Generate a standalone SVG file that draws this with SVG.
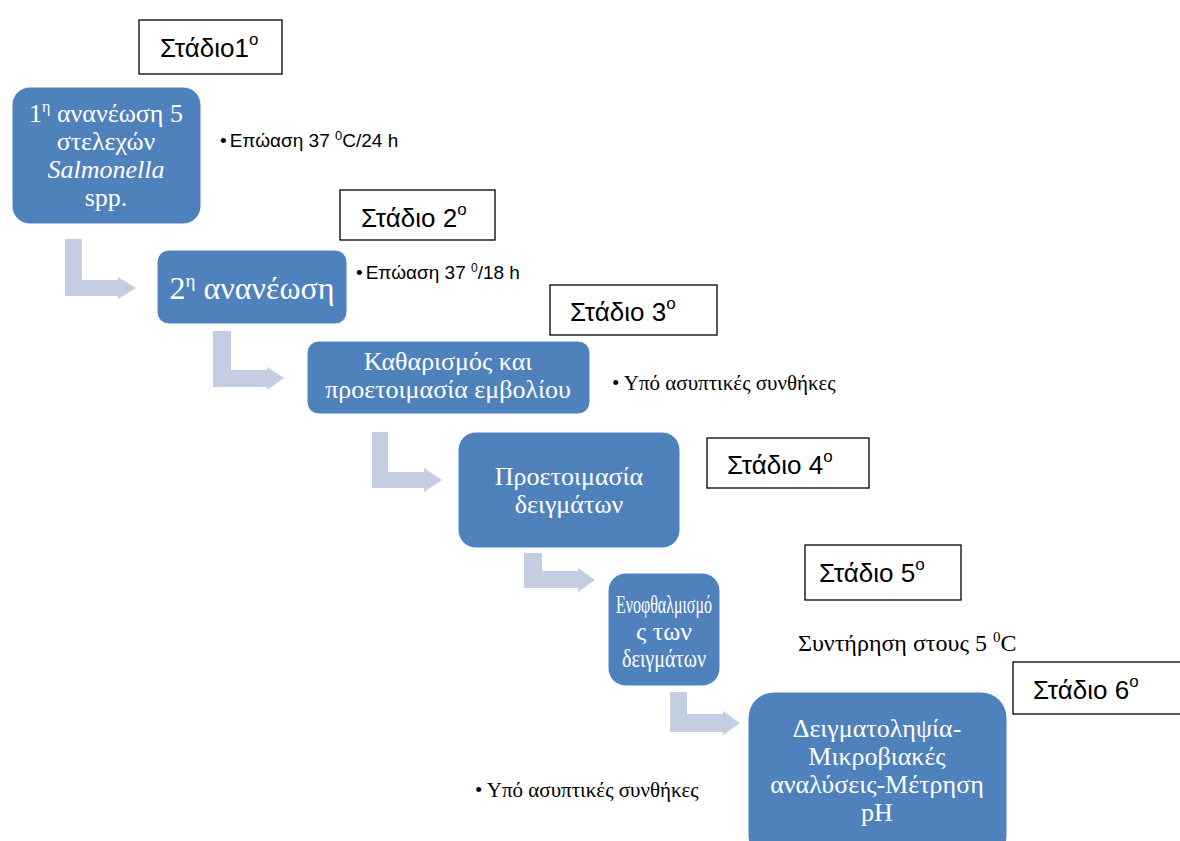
<svg xmlns="http://www.w3.org/2000/svg" width="1180" height="841" viewBox="0 0 1180 841">
<style>
.node{fill:#4F81BD;stroke:#FFFFFF;stroke-width:1}
.stage{fill:#FFFFFF;stroke:#000000;stroke-width:1.3}
.stxt{font-family:"Liberation Sans",Arial,sans-serif;font-size:26px;fill:#000}
.ntxt{font-family:"Liberation Serif","Times New Roman",serif;font-size:26px;fill:#FFFFFF;text-anchor:middle}
.arrow{fill:#C3CEE3}
.note{font-family:"Liberation Sans",Arial,sans-serif;font-size:19px;fill:#000}
.snote{font-family:"Liberation Serif","Times New Roman",serif;font-size:21px;fill:#000}
</style>
<rect width="1180" height="841" fill="#FFFFFF"/>
<g id="connectors">
<path class="arrow" d="M65,239 H82 V280 H118 V277 L136,288 L118,299 V296 H65 Z"/>
<path class="arrow" d="M213,331 H231 V370 H267 V367 L284,378 L267,390 V387 H213 Z"/>
<path class="arrow" d="M372,432 H388 V472 H424 V468 L442,480 L424,492 V488 H372 Z"/>
<path class="arrow" d="M524,553 H542 V571 H578 V568 L595,580 L578,592 V588 H524 Z"/>
<path class="arrow" d="M670,692 H687 V714 H723 V711 L740,723 L723,735 V732 H670 Z"/>
</g>
<g id="stage1"><rect class="stage" x="139" y="20" width="143" height="54"/>
<text class="stxt" x="160" y="57">Στάδιο1<tspan dy="-12" font-size="17">ο</tspan></text></g>
<g id="stage2"><rect class="stage" x="340" y="190" width="155" height="50"/>
<text class="stxt" x="361" y="227">Στάδιο 2<tspan dy="-12" font-size="17">ο</tspan></text></g>
<g id="stage3"><rect class="stage" x="550" y="285" width="167" height="50"/>
<text class="stxt" x="570" y="321">Στάδιο 3<tspan dy="-12" font-size="17">ο</tspan></text></g>
<g id="stage4"><rect class="stage" x="707" y="438" width="162" height="50"/>
<text class="stxt" x="727" y="474">Στάδιο 4<tspan dy="-12" font-size="17">ο</tspan></text></g>
<g id="stage5"><rect class="stage" x="805" y="545" width="156" height="55"/>
<text class="stxt" x="819" y="582">Στάδιο 5<tspan dy="-12" font-size="17">ο</tspan></text></g>
<g id="stage6"><rect class="stage" x="1013" y="662" width="170" height="52"/>
<text class="stxt" x="1033" y="699">Στάδιο 6<tspan dy="-12" font-size="17">ο</tspan></text></g>
<g id="node1"><rect class="node" x="12" y="87" width="189" height="137" rx="18"/>
<text class="ntxt" x="106" y="122">1<tspan dy="-10" font-size="16">η</tspan><tspan dy="10"> ανανέωση 5</tspan></text>
<text class="ntxt" x="106" y="150">στελεχών</text>
<text class="ntxt" x="106" y="178" font-style="italic">Salmonella</text>
<text class="ntxt" x="106" y="206">spp.</text></g>
<g id="node2"><rect class="node" x="157" y="250" width="190" height="74" rx="12"/>
<text class="ntxt" x="252" y="299" style="font-size:32px">2<tspan dy="-12" font-size="19">η</tspan><tspan dy="12"> ανανέωση</tspan></text></g>
<g id="node3"><rect class="node" x="307" y="341" width="283" height="73" rx="12"/>
<text class="ntxt" x="448" y="370">Καθαρισμός και</text>
<text class="ntxt" x="448" y="398">προετοιμασία εμβολίου</text></g>
<g id="node4"><rect class="node" x="458" y="432" width="222" height="116" rx="18"/>
<text class="ntxt" x="569" y="485">Προετοιμασία</text>
<text class="ntxt" x="569" y="513">δειγμάτων</text></g>
<g id="node5"><rect class="node" x="608" y="573" width="112" height="113" rx="18"/>
<text class="ntxt" x="664" y="613" textLength="96" lengthAdjust="spacingAndGlyphs">Ενοφθαλμισμό</text>
<text class="ntxt" x="664" y="640">ς των</text>
<text class="ntxt" x="664" y="667" textLength="84" lengthAdjust="spacingAndGlyphs">δειγμάτων</text></g>
<g id="node6"><rect class="node" x="748" y="692" width="259" height="170" rx="26"/>
<text class="ntxt" x="877" y="737">Δειγματοληψία-</text>
<text class="ntxt" x="877" y="765">Μικροβιακές</text>
<text class="ntxt" x="877" y="793">αναλύσεις-Μέτρηση</text>
<text class="ntxt" x="877" y="821">pH</text></g>
<g id="notes">
<text class="note" x="220" y="147">•<tspan dx="3">Επώαση 37 </tspan><tspan dy="-7" font-size="13">0</tspan><tspan dy="7">C/24 h</tspan></text>
<text class="note" x="356" y="279">•<tspan dx="3">Επώαση 37 </tspan><tspan dy="-7" font-size="12">0</tspan><tspan dy="7">/18 h</tspan></text>
<text class="snote" x="612" y="390">• Υπό ασυπτικές συνθήκες</text>
<text class="snote" x="798" y="651" style="font-size:24px">Συντήρηση στους 5 <tspan dy="-9" font-size="15">0</tspan><tspan dy="9">C</tspan></text>
<text class="snote" x="475" y="797">• Υπό ασυπτικές συνθήκες</text>
</g>
</svg>
